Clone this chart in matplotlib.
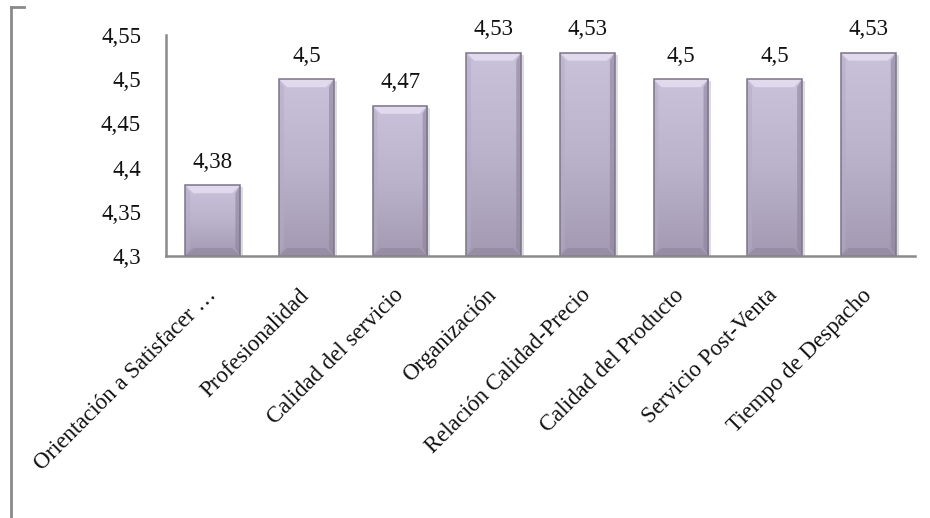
import numpy as np
import matplotlib
matplotlib.use("Agg")
import matplotlib.pyplot as plt
from matplotlib.patches import Polygon
from matplotlib.lines import Line2D
from matplotlib.colors import LinearSegmentedColormap

categories = [
    "Orientación a Satisfacer …",
    "Profesionalidad",
    "Calidad del servicio",
    "Organización",
    "Relación Calidad-Precio",
    "Calidad del Producto",
    "Servicio Post-Venta",
    "Tiempo de Despacho",
]
values = [4.38, 4.5, 4.47, 4.53, 4.53, 4.5, 4.5, 4.53]
value_labels = ["4,38", "4,5", "4,47", "4,53", "4,53", "4,5", "4,5", "4,53"]
y_ticks = [4.3, 4.35, 4.4, 4.45, 4.5, 4.55]
y_tick_labels = ["4,3", "4,35", "4,4", "4,45", "4,5", "4,55"]
y_min, y_max = 4.3, 4.55

plt.rcParams["font.family"] = ["Liberation Serif", "DejaVu Serif"]
FS = 16.5

W, H = 930, 518
fig = plt.figure(figsize=(W / 100, H / 100), dpi=100)
ax = fig.add_axes([166 / W, 1 - 256 / H, (915 - 166) / W, (256 - 35) / H])

x = np.arange(len(categories))
bar_w = 0.585
bars = ax.bar(x, [v - y_min for v in values], bottom=y_min, width=bar_w,
              color="none", edgecolor="none", zorder=2)

ax.set_xlim(-0.5, len(categories) - 0.5)
ax.set_ylim(y_min, y_max)

# pixel -> data scale for the bevel sizes
px_x = (len(categories)) / (915 - 166)
px_y = (y_max - y_min) / (256 - 35)
bev_x = 8 * px_x
bev_y = 8 * px_y

grad = LinearSegmentedColormap.from_list("lav", ["#a39aB2", "#bbb2cb", "#cac1da"])
gimg = np.linspace(0, 1, 256).reshape(-1, 1)

for rect in bars:
    x0, y0 = rect.get_x(), rect.get_y()
    w, h = rect.get_width(), rect.get_height()
    x1, y1 = x0 + w, y0 + h
    # soft shadow at the right
    ax.add_patch(plt.Rectangle((x1, y0), 3 * px_x, h - 2 * px_y,
                               facecolor="#dcdcdc", edgecolor="none", zorder=1.5))
    im = ax.imshow(gimg, cmap=grad, aspect="auto", origin="lower",
                   extent=(x0, x1, y0, y1), zorder=2.1)
    im.set_clip_path(rect)
    # bevel faces
    top = Polygon([(x0, y1), (x1, y1), (x1 - bev_x, y1 - bev_y), (x0 + bev_x, y1 - bev_y)],
                  closed=True, facecolor="#e4ddf0", edgecolor="none", alpha=0.9, zorder=2.2)
    left = Polygon([(x0, y0), (x0, y1), (x0 + bev_x * 0.6, y1 - bev_y), (x0 + bev_x * 0.6, y0 + bev_y)],
                   closed=True, facecolor="#b4abc4", edgecolor="none", alpha=0.5, zorder=2.2)
    right = Polygon([(x1, y0), (x1, y1), (x1 - bev_x * 0.6, y1 - bev_y), (x1 - bev_x * 0.6, y0 + bev_y)],
                    closed=True, facecolor="#8d849c", edgecolor="none", alpha=0.6, zorder=2.2)
    bottom = Polygon([(x0, y0), (x1, y0), (x1 - bev_x, y0 + bev_y), (x0 + bev_x, y0 + bev_y)],
                     closed=True, facecolor="#8f869e", edgecolor="none", alpha=0.6, zorder=2.2)
    for p in (top, left, right, bottom):
        ax.add_patch(p)
    ax.add_patch(plt.Rectangle((x0, y0), w, h, facecolor="none",
                               edgecolor="#7d748b", linewidth=1.1, zorder=2.3))

for xi, v, lab in zip(x, values, value_labels):
    ax.annotate(lab, (xi, v), xytext=(0, 9), textcoords="offset points",
                ha="center", va="bottom", fontsize=FS, color="#111111")

ax.set_yticks(y_ticks)
ax.set_yticklabels(y_tick_labels)
ax.set_xticks(x)
ax.set_xticklabels(categories, rotation=45, ha="right", va="center",
                   rotation_mode="anchor")
ax.tick_params(axis="both", length=0, labelsize=FS, colors="#111111")
ax.tick_params(axis="y", pad=18)
ax.tick_params(axis="x", pad=26)

for s in ("top", "right"):
    ax.spines[s].set_visible(False)
for s in ("left", "bottom"):
    ax.spines[s].set_color("#8a8a8a")
    ax.spines[s].set_linewidth(1.8)

# bracket frame at the left edge of the figure
fig.add_artist(Line2D([11 / W, 11 / W], [0, 1 - 7 / H], transform=fig.transFigure,
                      color="#8a8a8a", linewidth=2))
fig.add_artist(Line2D([11 / W, 24 / W], [1 - 7 / H, 1 - 7 / H], transform=fig.transFigure,
                      color="#8a8a8a", linewidth=2))

fig.savefig("out.png", dpi=100)
